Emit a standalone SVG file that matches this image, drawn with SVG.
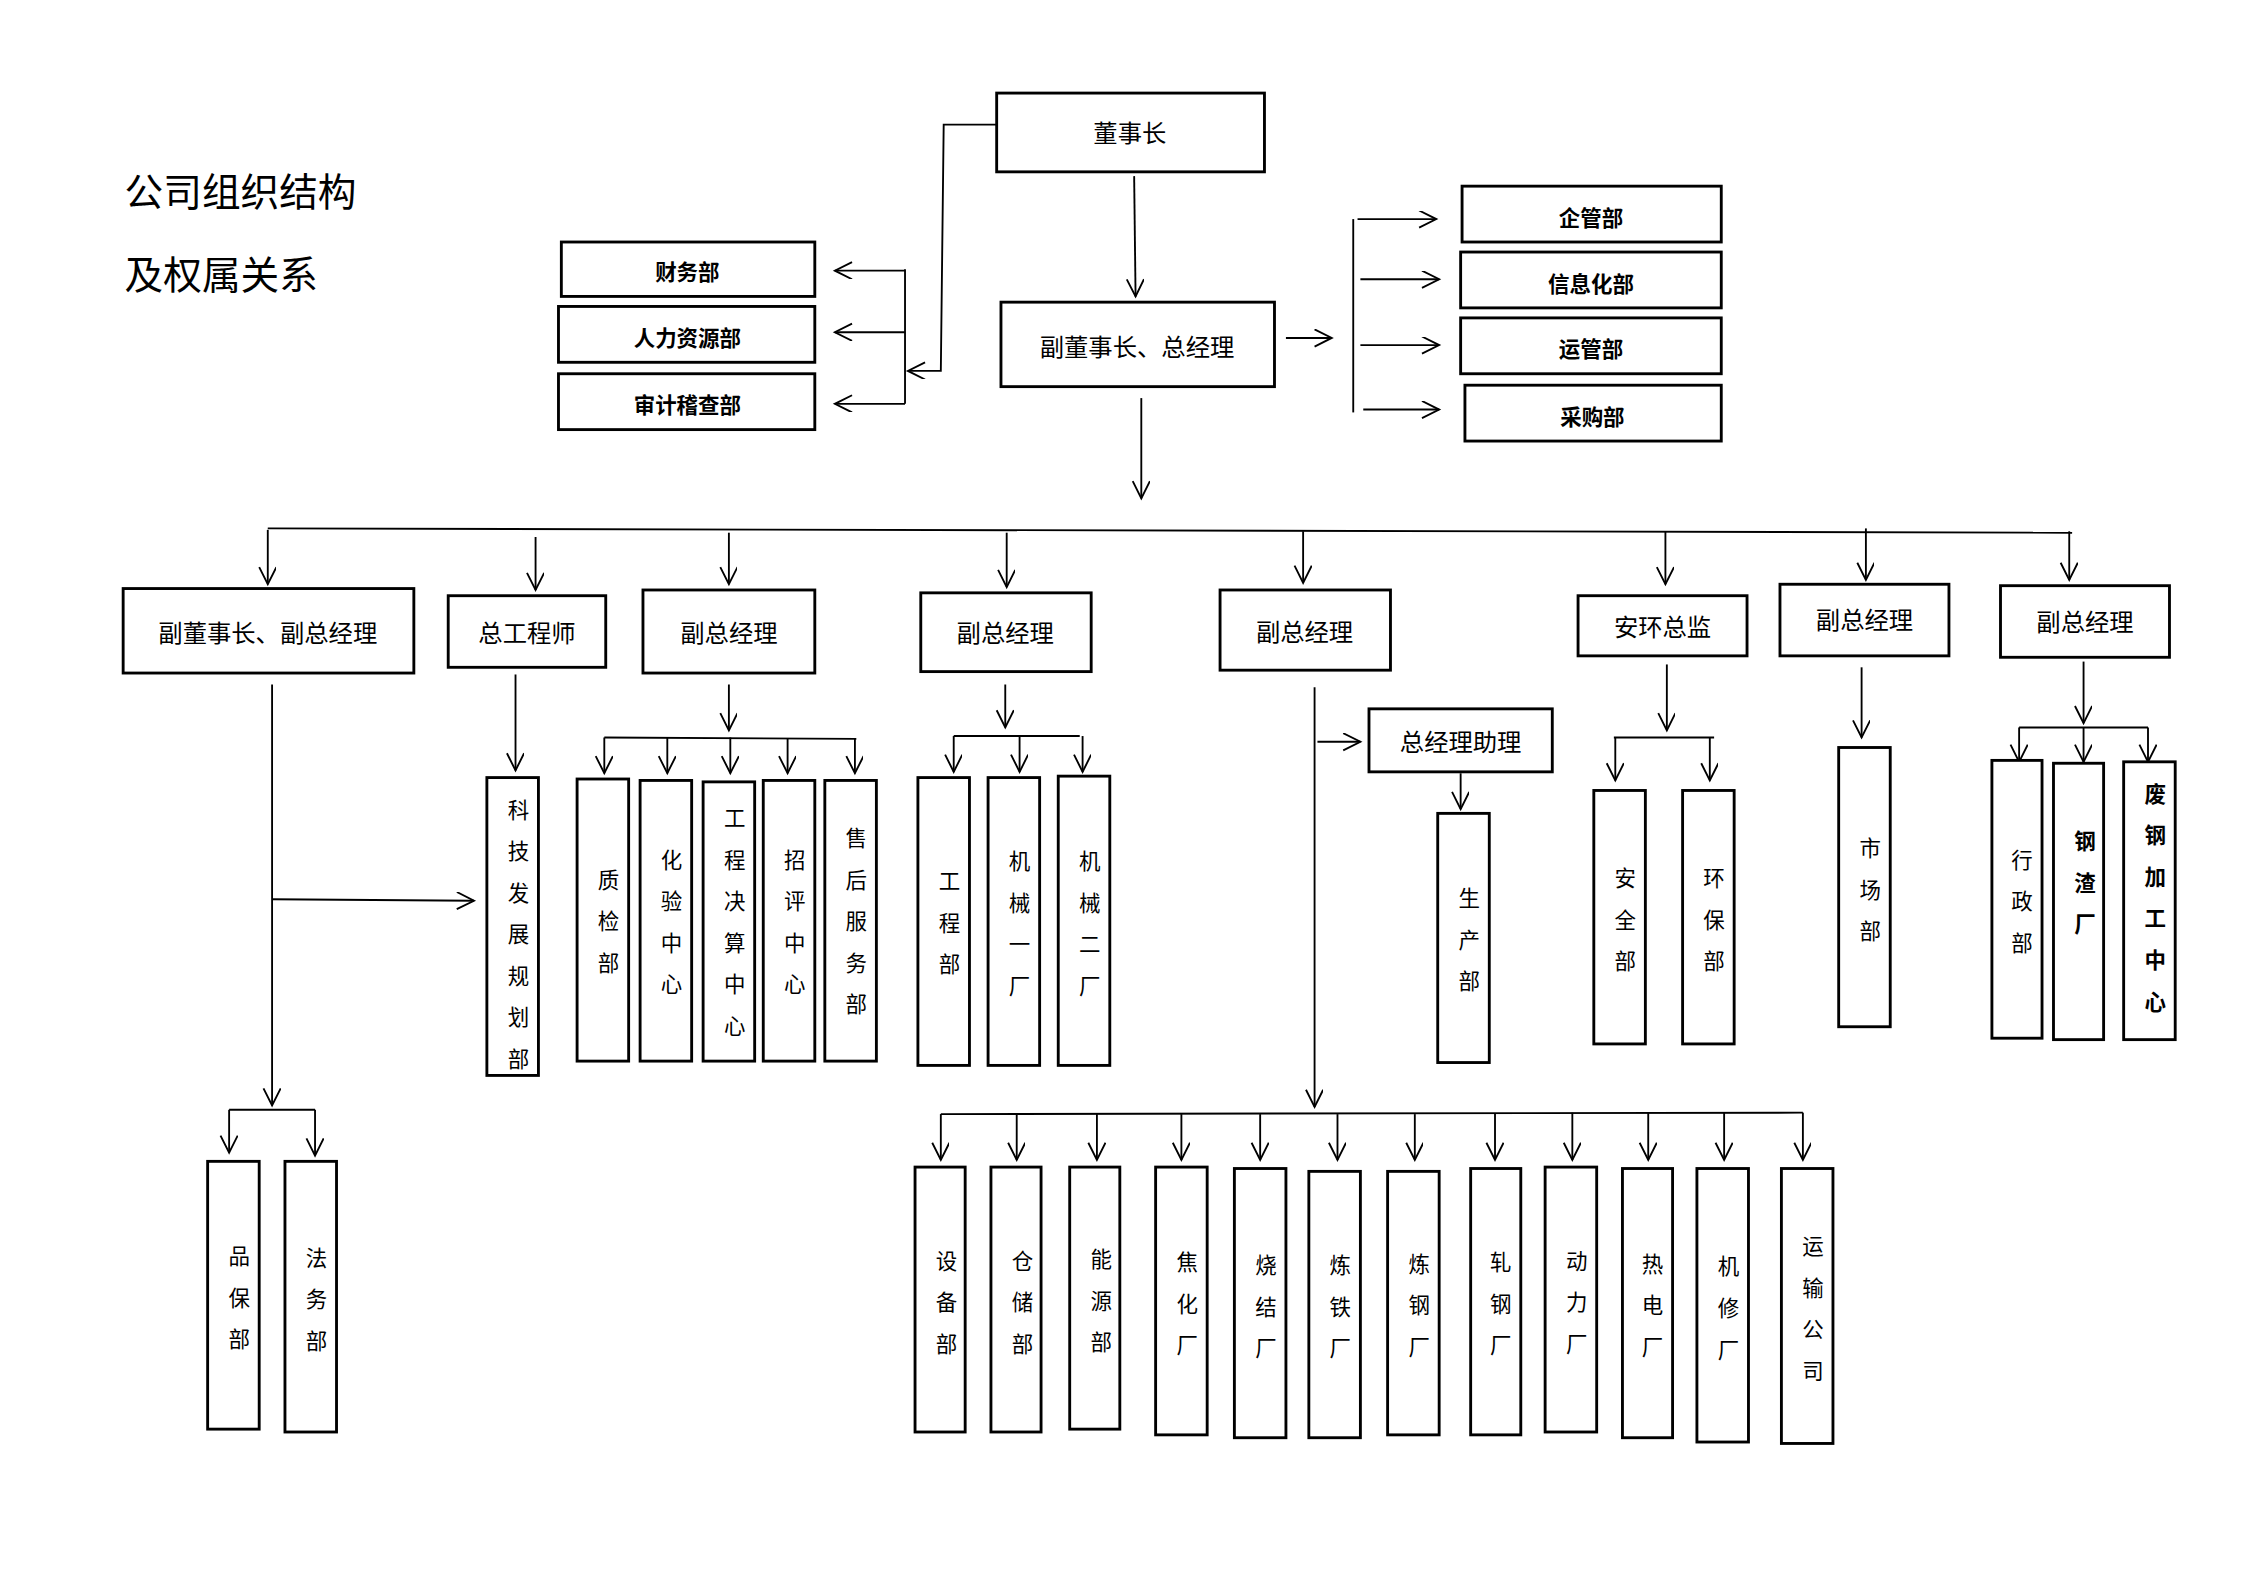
<svg xmlns="http://www.w3.org/2000/svg" width="2245" height="1587" viewBox="0 0 2245 1587">
<style>
.b{fill:#fff;stroke:#000;stroke-width:2}
.c line,.c polyline{stroke:#000;stroke-width:1.3;fill:none}
.t{font-family:"Noto Sans CJK SC","Noto Sans",sans-serif;font-size:17px;text-anchor:middle;dominant-baseline:central}
.s{font-size:15px;font-weight:bold}
.v{font-family:"Noto Sans CJK SC","Noto Sans",sans-serif;font-size:15px;text-anchor:middle;dominant-baseline:central}
.h{font-family:"Noto Sans CJK SC","Noto Sans",sans-serif;font-size:27px}
</style>
<defs><marker id="a" markerUnits="userSpaceOnUse" markerWidth="16" markerHeight="16" refX="13" refY="6" orient="auto"><path d="M1,0 L13,6 L1,12" fill="none" stroke="#000" stroke-width="1.3"/></marker></defs>
<rect width="2245" height="1587" fill="#fff"/>
<g transform="scale(1.432)">
<g id="title"><text class="h" x="87" y="144">公司组织结构</text><text class="h" x="87" y="202">及权属关系</text></g>
<g class="c" id="connectors">
<polyline points="696,87 659,87 657,259 634,259" marker-end="url(#a)"/>
<line x1="632" y1="188" x2="632" y2="282"/>
<line x1="632" y1="189" x2="583" y2="189" marker-end="url(#a)"/>
<line x1="632" y1="232" x2="583" y2="232" marker-end="url(#a)"/>
<line x1="632" y1="282" x2="583" y2="282" marker-end="url(#a)"/>
<line x1="792" y1="123" x2="793" y2="207" marker-end="url(#a)"/>
<line x1="898" y1="236" x2="930" y2="236" marker-end="url(#a)"/>
<line x1="945" y1="153" x2="945" y2="288"/>
<line x1="948" y1="153" x2="1003" y2="153" marker-end="url(#a)"/>
<line x1="950" y1="195" x2="1005" y2="195" marker-end="url(#a)"/>
<line x1="950" y1="241" x2="1005" y2="241" marker-end="url(#a)"/>
<line x1="952" y1="286" x2="1005" y2="286" marker-end="url(#a)"/>
<line x1="797" y1="278" x2="797" y2="348" marker-end="url(#a)"/>
<line x1="187" y1="369" x2="1447" y2="372"/>
<line x1="187" y1="370" x2="187" y2="408" marker-end="url(#a)"/>
<line x1="374" y1="375" x2="374" y2="412" marker-end="url(#a)"/>
<line x1="509" y1="372" x2="509" y2="408" marker-end="url(#a)"/>
<line x1="703" y1="372" x2="703" y2="410" marker-end="url(#a)"/>
<line x1="910" y1="371" x2="910" y2="407" marker-end="url(#a)"/>
<line x1="1163" y1="371" x2="1163" y2="408" marker-end="url(#a)"/>
<line x1="1303" y1="369" x2="1303" y2="405" marker-end="url(#a)"/>
<line x1="1445" y1="371" x2="1445" y2="405" marker-end="url(#a)"/>
<line x1="190" y1="478" x2="190" y2="772" marker-end="url(#a)"/>
<line x1="190" y1="628" x2="331" y2="629" marker-end="url(#a)"/>
<line x1="160" y1="775" x2="220" y2="775"/>
<line x1="160" y1="775" x2="160" y2="805" marker-end="url(#a)"/>
<line x1="220" y1="775" x2="220" y2="807" marker-end="url(#a)"/>
<line x1="360" y1="471" x2="360" y2="538" marker-end="url(#a)"/>
<line x1="509" y1="478" x2="509" y2="510" marker-end="url(#a)"/>
<line x1="422" y1="515" x2="598" y2="516"/>
<line x1="422" y1="515" x2="422" y2="540" marker-end="url(#a)"/>
<line x1="466" y1="515" x2="466" y2="540" marker-end="url(#a)"/>
<line x1="510" y1="515" x2="510" y2="540" marker-end="url(#a)"/>
<line x1="550" y1="516" x2="550" y2="540" marker-end="url(#a)"/>
<line x1="597" y1="516" x2="597" y2="540" marker-end="url(#a)"/>
<line x1="702" y1="478" x2="702" y2="508" marker-end="url(#a)"/>
<line x1="666" y1="514" x2="754" y2="514"/>
<line x1="666" y1="514" x2="666" y2="539" marker-end="url(#a)"/>
<line x1="712" y1="514" x2="712" y2="539" marker-end="url(#a)"/>
<line x1="756" y1="514" x2="756" y2="539" marker-end="url(#a)"/>
<line x1="918" y1="480" x2="918" y2="773" marker-end="url(#a)"/>
<line x1="920" y1="518" x2="950" y2="518" marker-end="url(#a)"/>
<line x1="1020" y1="540" x2="1020" y2="565" marker-end="url(#a)"/>
<line x1="657" y1="778" x2="1259" y2="777"/>
<line x1="657" y1="778" x2="657" y2="810" marker-end="url(#a)"/>
<line x1="710" y1="778" x2="710" y2="810" marker-end="url(#a)"/>
<line x1="766" y1="778" x2="766" y2="810" marker-end="url(#a)"/>
<line x1="825" y1="778" x2="825" y2="810" marker-end="url(#a)"/>
<line x1="880" y1="778" x2="880" y2="810" marker-end="url(#a)"/>
<line x1="934" y1="778" x2="934" y2="810" marker-end="url(#a)"/>
<line x1="988" y1="778" x2="988" y2="810" marker-end="url(#a)"/>
<line x1="1044" y1="778" x2="1044" y2="810" marker-end="url(#a)"/>
<line x1="1098" y1="777" x2="1098" y2="810" marker-end="url(#a)"/>
<line x1="1151" y1="777" x2="1151" y2="810" marker-end="url(#a)"/>
<line x1="1204" y1="777" x2="1204" y2="810" marker-end="url(#a)"/>
<line x1="1259" y1="777" x2="1259" y2="810" marker-end="url(#a)"/>
<line x1="1164" y1="464" x2="1164" y2="510" marker-end="url(#a)"/>
<line x1="1127" y1="515" x2="1197" y2="515"/>
<line x1="1128" y1="515" x2="1128" y2="545" marker-end="url(#a)"/>
<line x1="1194" y1="515" x2="1194" y2="545" marker-end="url(#a)"/>
<line x1="1300" y1="466" x2="1300" y2="515" marker-end="url(#a)"/>
<line x1="1455" y1="462" x2="1455" y2="505" marker-end="url(#a)"/>
<line x1="1410" y1="508" x2="1500" y2="508"/>
<line x1="1410" y1="508" x2="1410" y2="532" marker-end="url(#a)"/>
<line x1="1455" y1="508" x2="1455" y2="532" marker-end="url(#a)"/>
<line x1="1500" y1="508" x2="1500" y2="532" marker-end="url(#a)"/>
</g>
<g id="n1"><rect class="b" x="696" y="65" width="187" height="55"/><text class="t" x="789" y="92">董事长</text></g>
<g id="n2"><rect class="b" x="699" y="211" width="191" height="59"/><text class="t" x="794" y="241">副董事长、总经理</text></g>
<g id="n3"><rect class="b" x="392" y="169" width="177" height="38"/><text class="t s" x="480" y="189">财务部</text></g>
<g id="n4"><rect class="b" x="390" y="214" width="179" height="39"/><text class="t s" x="480" y="235">人力资源部</text></g>
<g id="n5"><rect class="b" x="390" y="261" width="179" height="39"/><text class="t s" x="480" y="282">审计稽查部</text></g>
<g id="n6"><rect class="b" x="1021" y="130" width="181" height="39"/><text class="t s" x="1111" y="151">企管部</text></g>
<g id="n7"><rect class="b" x="1020" y="176" width="182" height="39"/><text class="t s" x="1111" y="197">信息化部</text></g>
<g id="n8"><rect class="b" x="1020" y="222" width="182" height="39"/><text class="t s" x="1111" y="243">运管部</text></g>
<g id="n9"><rect class="b" x="1023" y="269" width="179" height="39"/><text class="t s" x="1112" y="290">采购部</text></g>
<g id="r1"><rect class="b" x="86" y="411" width="203" height="59"/><text class="t" x="187" y="441">副董事长、副总经理</text></g>
<g id="r2"><rect class="b" x="313" y="416" width="110" height="50"/><text class="t" x="368" y="441">总工程师</text></g>
<g id="r3"><rect class="b" x="449" y="412" width="120" height="58"/><text class="t" x="509" y="441">副总经理</text></g>
<g id="r4"><rect class="b" x="643" y="414" width="119" height="55"/><text class="t" x="702" y="441">副总经理</text></g>
<g id="r5"><rect class="b" x="852" y="412" width="119" height="56"/><text class="t" x="911" y="440">副总经理</text></g>
<g id="r6"><rect class="b" x="1102" y="416" width="118" height="42"/><text class="t" x="1161" y="437">安环总监</text></g>
<g id="r7"><rect class="b" x="1243" y="408" width="118" height="50"/><text class="t" x="1302" y="432">副总经理</text></g>
<g id="r8"><rect class="b" x="1397" y="409" width="118" height="50"/><text class="t" x="1456" y="433">副总经理</text></g>
<g id="r9"><rect class="b" x="956" y="495" width="128" height="44"/><text class="t" x="1020" y="517">总经理助理</text></g>
<g id="v1"><rect class="b" x="145" y="811" width="36" height="187"/><text class="v"><tspan x="167" y="876">品</tspan><tspan x="167" y="905">保</tspan><tspan x="167" y="934">部</tspan></text></g>
<g id="v2"><rect class="b" x="199" y="811" width="36" height="189"/><text class="v"><tspan x="221" y="877">法</tspan><tspan x="221" y="906">务</tspan><tspan x="221" y="935">部</tspan></text></g>
<g id="v3"><rect class="b" x="340" y="543" width="36" height="208"/><text class="v"><tspan x="362" y="564">科</tspan><tspan x="362" y="593">技</tspan><tspan x="362" y="622">发</tspan><tspan x="362" y="651">展</tspan><tspan x="362" y="680">规</tspan><tspan x="362" y="709">划</tspan><tspan x="362" y="738">部</tspan></text></g>
<g id="v4"><rect class="b" x="403" y="544" width="36" height="197"/><text class="v"><tspan x="425" y="613">质</tspan><tspan x="425" y="642">检</tspan><tspan x="425" y="671">部</tspan></text></g>
<g id="v5"><rect class="b" x="447" y="545" width="36" height="196"/><text class="v"><tspan x="469" y="599">化</tspan><tspan x="469" y="628">验</tspan><tspan x="469" y="657">中</tspan><tspan x="469" y="686">心</tspan></text></g>
<g id="v6"><rect class="b" x="491" y="546" width="36" height="195"/><text class="v"><tspan x="513" y="570">工</tspan><tspan x="513" y="599">程</tspan><tspan x="513" y="628">决</tspan><tspan x="513" y="657">算</tspan><tspan x="513" y="686">中</tspan><tspan x="513" y="715">心</tspan></text></g>
<g id="v7"><rect class="b" x="533" y="545" width="36" height="196"/><text class="v"><tspan x="555" y="599">招</tspan><tspan x="555" y="628">评</tspan><tspan x="555" y="657">中</tspan><tspan x="555" y="686">心</tspan></text></g>
<g id="v8"><rect class="b" x="576" y="545" width="36" height="196"/><text class="v"><tspan x="598" y="584">售</tspan><tspan x="598" y="613">后</tspan><tspan x="598" y="642">服</tspan><tspan x="598" y="671">务</tspan><tspan x="598" y="700">部</tspan></text></g>
<g id="v9"><rect class="b" x="641" y="543" width="36" height="201"/><text class="v"><tspan x="663" y="614">工</tspan><tspan x="663" y="643">程</tspan><tspan x="663" y="672">部</tspan></text></g>
<g id="v10"><rect class="b" x="690" y="543" width="36" height="201"/><text class="v"><tspan x="712" y="600">机</tspan><tspan x="712" y="629">械</tspan><tspan x="712" y="658">一</tspan><tspan x="712" y="687">厂</tspan></text></g>
<g id="v11"><rect class="b" x="739" y="542" width="36" height="202"/><text class="v"><tspan x="761" y="600">机</tspan><tspan x="761" y="629">械</tspan><tspan x="761" y="658">二</tspan><tspan x="761" y="687">厂</tspan></text></g>
<g id="v12"><rect class="b" x="1004" y="568" width="36" height="174"/><text class="v"><tspan x="1026" y="626">生</tspan><tspan x="1026" y="655">产</tspan><tspan x="1026" y="684">部</tspan></text></g>
<g id="v13"><rect class="b" x="1113" y="552" width="36" height="177"/><text class="v"><tspan x="1135" y="612">安</tspan><tspan x="1135" y="641">全</tspan><tspan x="1135" y="670">部</tspan></text></g>
<g id="v14"><rect class="b" x="1175" y="552" width="36" height="177"/><text class="v"><tspan x="1197" y="612">环</tspan><tspan x="1197" y="641">保</tspan><tspan x="1197" y="670">部</tspan></text></g>
<g id="v15"><rect class="b" x="1284" y="522" width="36" height="195"/><text class="v"><tspan x="1306" y="591">市</tspan><tspan x="1306" y="620">场</tspan><tspan x="1306" y="649">部</tspan></text></g>
<g id="v16"><rect class="b" x="1391" y="531" width="35" height="194"/><text class="v"><tspan x="1412" y="599">行</tspan><tspan x="1412" y="628">政</tspan><tspan x="1412" y="657">部</tspan></text></g>
<g id="v17"><rect class="b" x="1434" y="533" width="35" height="193"/><text class="v" font-weight="bold"><tspan x="1456" y="586">钢</tspan><tspan x="1456" y="615">渣</tspan><tspan x="1456" y="644">厂</tspan></text></g>
<g id="v18"><rect class="b" x="1483" y="532" width="36" height="194"/><text class="v" font-weight="bold"><tspan x="1505" y="553">废</tspan><tspan x="1505" y="582">钢</tspan><tspan x="1505" y="611">加</tspan><tspan x="1505" y="640">工</tspan><tspan x="1505" y="669">中</tspan><tspan x="1505" y="698">心</tspan></text></g>
<g id="w1"><rect class="b" x="639" y="815" width="35" height="185"/><text class="v"><tspan x="661" y="879">设</tspan><tspan x="661" y="908">备</tspan><tspan x="661" y="937">部</tspan></text></g>
<g id="w2"><rect class="b" x="692" y="815" width="35" height="185"/><text class="v"><tspan x="714" y="879">仓</tspan><tspan x="714" y="908">储</tspan><tspan x="714" y="937">部</tspan></text></g>
<g id="w3"><rect class="b" x="747" y="815" width="35" height="183"/><text class="v"><tspan x="769" y="878">能</tspan><tspan x="769" y="907">源</tspan><tspan x="769" y="936">部</tspan></text></g>
<g id="w4"><rect class="b" x="807" y="815" width="36" height="187"/><text class="v"><tspan x="829" y="880">焦</tspan><tspan x="829" y="909">化</tspan><tspan x="829" y="938">厂</tspan></text></g>
<g id="w5"><rect class="b" x="862" y="816" width="36" height="188"/><text class="v"><tspan x="884" y="882">烧</tspan><tspan x="884" y="911">结</tspan><tspan x="884" y="940">厂</tspan></text></g>
<g id="w6"><rect class="b" x="914" y="818" width="36" height="186"/><text class="v"><tspan x="936" y="882">炼</tspan><tspan x="936" y="911">铁</tspan><tspan x="936" y="940">厂</tspan></text></g>
<g id="w7"><rect class="b" x="969" y="818" width="36" height="184"/><text class="v"><tspan x="991" y="881">炼</tspan><tspan x="991" y="910">钢</tspan><tspan x="991" y="939">厂</tspan></text></g>
<g id="w8"><rect class="b" x="1027" y="816" width="35" height="186"/><text class="v"><tspan x="1048" y="880">轧</tspan><tspan x="1048" y="909">钢</tspan><tspan x="1048" y="938">厂</tspan></text></g>
<g id="w9"><rect class="b" x="1079" y="815" width="36" height="185"/><text class="v"><tspan x="1101" y="879">动</tspan><tspan x="1101" y="908">力</tspan><tspan x="1101" y="937">厂</tspan></text></g>
<g id="w10"><rect class="b" x="1133" y="816" width="35" height="188"/><text class="v"><tspan x="1154" y="881">热</tspan><tspan x="1154" y="910">电</tspan><tspan x="1154" y="939">厂</tspan></text></g>
<g id="w11"><rect class="b" x="1185" y="816" width="36" height="191"/><text class="v"><tspan x="1207" y="883">机</tspan><tspan x="1207" y="912">修</tspan><tspan x="1207" y="941">厂</tspan></text></g>
<g id="w12"><rect class="b" x="1244" y="816" width="36" height="192"/><text class="v"><tspan x="1266" y="869">运</tspan><tspan x="1266" y="898">输</tspan><tspan x="1266" y="927">公</tspan><tspan x="1266" y="956">司</tspan></text></g>
</g>
</svg>
